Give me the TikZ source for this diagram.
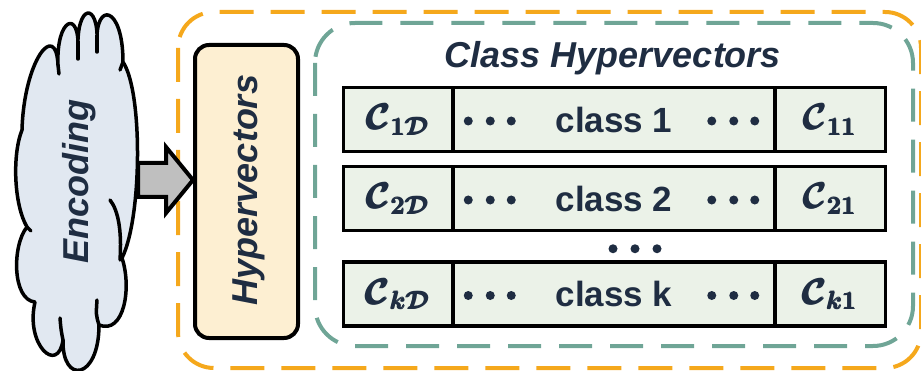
\RequirePackage{fix-cm}
\documentclass[tikz,border=0pt]{standalone}
\usepackage{fontspec}
\setmainfont{Liberation Sans}
\usepackage{amsmath}
\usepackage{anyfontsize}
\usetikzlibrary{calc}

\definecolor{ink}{HTML}{1F2D42}
\definecolor{cloudfill}{HTML}{E1E8F1}
\definecolor{hvfill}{HTML}{FDEFD2}
\definecolor{cellfill}{HTML}{EBF2E8}
\definecolor{outerdash}{HTML}{F5A81C}
\definecolor{innerdash}{HTML}{6FA596}
\definecolor{arrowgray}{HTML}{BFBFBF}

% symbol of one component of a class hypervector
\newcommand\cellsym[1]{{\fontsize{36}{40}\selectfont\boldmath$\pmb{\mathcal{C}}_{\pmb{#1}}$}}

\tikzset{
  outerframe/.style={draw=outerdash, line width=4pt, rounded corners=36pt,
    dash pattern=on 34pt off 17pt},
  innerframe/.style={draw=innerdash, line width=4pt, rounded corners=40pt,
    dash pattern=on 33pt off 18pt},
  cloudshape/.style={draw=black, fill=cloudfill, line width=3.5pt, line join=round},
  cloudfold/.style={draw=black, line width=3.5pt, line cap=round},
  vlabel/.style={rotate=90, text=ink, inner sep=0pt,
    font=\fontsize{36}{40}\selectfont\bfseries\itshape},
  titletext/.style={text=ink, inner sep=0pt,
    font=\fontsize{36}{40}\selectfont\bfseries\itshape},
  hvbox/.style={draw=black, fill=hvfill, line width=4pt, rounded corners=14pt,
    minimum width=103pt, minimum height=293pt, inner sep=0pt},
  blockarrow/.style={draw=black, fill=arrowgray, line width=4pt, line join=miter},
  cell/.style={draw=black, fill=cellfill, line width=3.5pt, minimum height=64pt,
    inner sep=0pt, text=ink, font=\fontsize{35}{40}\selectfont\bfseries},
  dot/.style={fill=ink},
}

\begin{document}
\begin{tikzpicture}[x=1pt,y=1pt]
\useasboundingbox (0,0) rectangle (921,370);

% outer dashed frame
\draw[outerframe] (178,358) rectangle (921,2);

% inner dashed frame around the class hypervectors
\draw[innerframe] (315,347) rectangle (913,24);

% encoding cloud
\path[cloudshape] (22,240)
  .. controls (24,310) and (56,350) .. (58,305)
  .. controls (56,352) and (80,362) .. (78,320)
  .. controls (76,367) and (99,369) .. (97,327)
  .. controls (95,369) and (123,365) .. (123,308)
  .. controls (143,278) and (142,152) .. (122,112)
  .. controls (132,82) and (124,35) .. (99,45)
  .. controls (99,-10) and (62,-15) .. (63,30)
  .. controls (58,-5) and (25,25) .. (35,68)
  .. controls (12,70) and (12,125) .. (27,143)
  .. controls (14,165) and (12,215) .. (22,240)
  -- cycle;
\draw[cloudfold] (58,305) -- (59,296);
\draw[cloudfold] (78,320) -- (78,311);
\draw[cloudfold] (97,327) -- (97,318);
\draw[cloudfold] (123,308) -- (120,300);
\draw[cloudfold] (110,170) .. controls (118,160) and (122,140) .. (120,110);
\draw[cloudfold] (99,45) .. controls (96,55) .. (97,70);
\draw[cloudfold] (63,30) .. controls (61,40) .. (60,52);
\draw[cloudfold] (27,143) -- (31,139);
\node[vlabel, anchor=base] (enc) at (88,188) {Encoding};

% hypervector block
\node[hvbox] (hv) at (246.5,178.5) {};
\node[vlabel, anchor=base] (hvtext) at (257,180) {Hypervectors};

% block arrow from the cloud to the hypervectors
\coordinate (arrowtail) at (138,190);
\coordinate (arrowtip) at (hv.west |- arrowtail);
\draw[blockarrow] ($(arrowtail)+(0,17)$) -- ($(arrowtip)+(-27,17)$)
  -- ($(arrowtip)+(-27,33)$) -- (arrowtip) -- ($(arrowtip)+(-27,-33)$)
  -- ($(arrowtip)+(-27,-17)$) -- ($(arrowtail)+(0,-17)$) -- cycle;

% title
\node[titletext, anchor=base] (title) at (613,302) {Class Hypervectors};

% class rows
\foreach \r/\yy in {1/250.5, 2/171.5, k/76} {
  \node[cell, minimum width=109.5pt] (first\r) at (398.25,\yy) {\cellsym{\r\mathcal{D}}};
  \node[cell, minimum width=322pt] (mid\r) at (614,\yy) {class \r};
  \node[cell, minimum width=110.5pt] (last\r) at (830.25,\yy) {\cellsym{\r1}};
  \foreach \dx in {17,39,60}
    \fill[dot] ($(mid\r.west)+(\dx,-1.5)$) circle (4.5);
  \foreach \dx in {22,43,65}
    \fill[dot] ($(mid\r.east)+(-\dx,-1.5)$) circle (4.5);
}

% dots standing for the rows in between
\coordinate (gap) at ($(mid2.south)!0.5!(midk.north)+(0,-2.5)$);
\foreach \dx in {-1,21,43}
  \fill[dot] ($(gap)+(\dx,0)$) circle (4.5);
\end{tikzpicture}
\end{document}
